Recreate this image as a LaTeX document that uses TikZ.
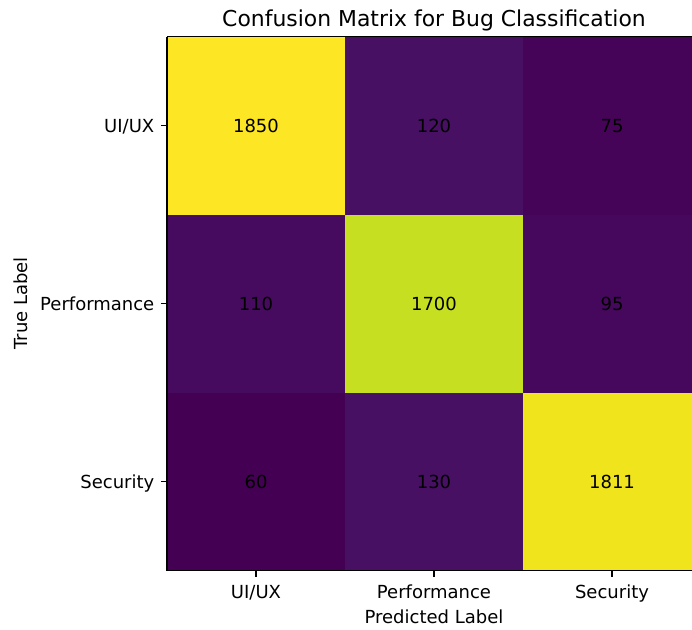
\documentclass[tikz,border=0pt]{standalone}
\usepackage{fontspec}
\setmainfont{DejaVu Sans}
\definecolor{vA}{HTML}{FDE725}% 1850
\definecolor{vB}{HTML}{471063}% 120
\definecolor{vC}{HTML}{450457}% 75
\definecolor{vD}{HTML}{460B5E}% 110
\definecolor{vE}{HTML}{C6E021}% 1700
\definecolor{vF}{HTML}{46085C}% 95
\definecolor{vG}{HTML}{440154}% 60
\definecolor{vH}{HTML}{471063}% 130
\definecolor{vI}{HTML}{F0E51C}% 1811
\begin{document}
\begin{tikzpicture}[x=1pt,y=-1pt,
  lab/.style={inner sep=0pt, text=black, font=\fontsize{18}{21}\selectfont},
  ttl/.style={inner sep=0pt, text=black, font=\fontsize{21.9}{25}\selectfont},
  spine/.style={line width=1.4pt, black},
  tickmark/.style={line width=1.4pt, black}]
\useasboundingbox (0,0) rectangle (692,629);
\clip (0,0) rectangle (692,629);
\fill[white] (0,0) rectangle (692,629);

% heat-map cells (column x: 167, 345, 523; row y: 36.5, 214.5, 392.5)
\fill[vA] (167,36.5)  rectangle (345,214.5);
\fill[vB] (345,36.5)  rectangle (523,214.5);
\fill[vC] (523,36.5)  rectangle (701,214.5);
\fill[vD] (167,214.5) rectangle (345,392.5);
\fill[vE] (345,214.5) rectangle (523,392.5);
\fill[vF] (523,214.5) rectangle (701,392.5);
\fill[vG] (167,392.5) rectangle (345,570.5);
\fill[vH] (345,392.5) rectangle (523,570.5);
\fill[vI] (523,392.5) rectangle (701,570.5);

% cell counts
\node[lab, anchor=base] (c11) at (256,132) {1850};
\node[lab, anchor=base] (c12) at (434,132) {120};
\node[lab, anchor=base] (c13) at (612,132) {75};
\node[lab, anchor=base] (c21) at (256,310) {110};
\node[lab, anchor=base] (c22) at (434,310) {1700};
\node[lab, anchor=base] (c23) at (612,310) {95};
\node[lab, anchor=base] (c31) at (256,488) {60};
\node[lab, anchor=base] (c32) at (434,488) {130};
\node[lab, anchor=base] (c33) at (612,488) {1811};

% axes frame
\draw[spine] (167,36.5) -- (167,570.5) -- (701,570.5);
\draw[spine] (167,36.5) -- (701,36.5);
\draw[spine] (701,36.5) -- (701,570.5);

% ticks
\foreach \xx in {256,434,612} \draw[tickmark] (\xx,570.5) -- (\xx,576.7);
\foreach \yy in {125.5,303.5,481.5} \draw[tickmark] (160.8,\yy) -- (167,\yy);

% tick labels
\node[lab, anchor=base] (xt1) at (256,598) {UI/UX};
\node[lab, anchor=base] (xt2) at (434,598) {Performance};
\node[lab, anchor=base] (xt3) at (612,598) {Security};
\node[lab, anchor=base east] (yt1) at (154.5,132.3) {UI/UX};
\node[lab, anchor=base east] (yt2) at (154.5,310.3) {Performance};
\node[lab, anchor=base east] (yt3) at (154.5,488.3) {Security};

% axis labels and title
\node[lab, anchor=base] (xlab) at (434,623) {Predicted Label};
\node[lab, anchor=base, rotate=90] (ylab) at (27,303.5) {True Label};
\node[ttl, anchor=base] (title) at (434,26) {Confusion Matrix for Bug Classification};
\end{tikzpicture}
\end{document}
